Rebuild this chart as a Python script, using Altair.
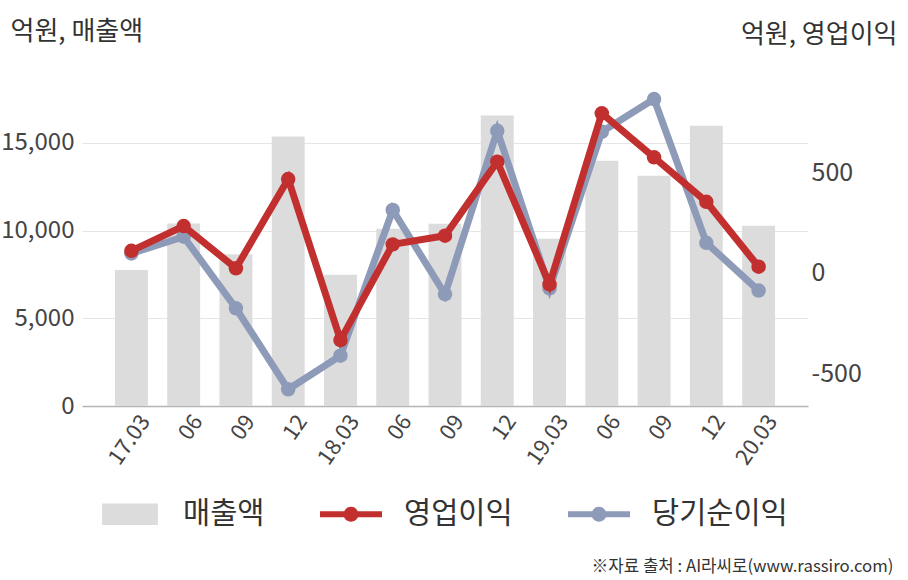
import json
import altair as alt
import pandas as pd

periods = ["17.03", "17.06", "17.09", "17.12", "18.03", "18.06", "18.09",
           "18.12", "19.03", "19.06", "19.09", "19.12", "20.03"]
tick_labels = ["17.03", "06", "09", "12", "18.03", "06", "09",
               "12", "19.03", "06", "09", "12", "20.03"]
revenue = [7750, 10400, 8650, 15350, 7480, 10100, 10380,
           16550, 9530, 13980, 13120, 15970, 10270]
op_profit = [108, 231, 21, 465, -336, 140, 183,
             551, -59, 792, 573, 352, 29]
net_profit = [95, 178, -178, -581, -414, 311, -108,
              705, -79, 700, 863, 148, -90]

series_names = ["매출액", "영업이익", "당기순이익"]
series_colors = ["#dcdcdc", "#c22f2f", "#8e9bb8"]

FONT = "Noto Sans CJK KR"
bar_shape = "M-0.9,-0.35H0.9V0.35H-0.9Z"
line_shape = ("M-1,-0.1H1V0.1H-1Z M0.24,0A0.24,0.24 0 1,1 -0.24,0"
              "A0.24,0.24 0 1,1 0.24,0Z")

bar_df = pd.DataFrame({"period": periods, "value": revenue, "series": series_names[0]})
line_df = pd.concat([
    pd.DataFrame({"period": periods, "value": net_profit, "series": series_names[2]}),
    pd.DataFrame({"period": periods, "value": op_profit, "series": series_names[1]}),
], ignore_index=True)

label_map = json.dumps(dict(zip(periods, tick_labels)), ensure_ascii=False)

legend = alt.Legend(
    title=None, orient="none", legendX=17, legendY=428, direction="horizontal",
    columns=3, labelFontSize=29.5, labelFont=FONT, labelColor="#333333",
    labelOffset=22, columnPadding=55, symbolSize=3844, symbolStrokeWidth=0,
)
color_scale = alt.Scale(domain=series_names, range=series_colors)
shape_scale = alt.Scale(domain=series_names, range=[bar_shape, line_shape, line_shape])

x_axis = alt.Axis(
    labelExpr=f"{label_map}[datum.value]", labelAngle=-55, labelFontSize=22,
    labelFont=FONT, labelColor="#444444", ticks=False, domain=True,
    domainColor="#b5b5b5", domainWidth=1.5, grid=False, labelPadding=11,
    labelOffset=14,
    title="※자료 출처 : AI라씨로(www.rassiro.com)", titleFont=FONT,
    titleFontSize=16.8, titleFontWeight="normal", titleColor="#333333",
    titleAlign="right", titleBaseline="middle", titleAngle=0,
    titleX=811, titleY=160,
)
x_enc = alt.X("period:O", sort=periods,
              scale=alt.Scale(paddingInner=0.37, paddingOuter=0.63), axis=x_axis)

bars = alt.Chart(bar_df).mark_bar().encode(
    x=x_enc,
    y=alt.Y("value:Q", scale=alt.Scale(domain=[0, 20000], nice=False, zero=False),
            axis=alt.Axis(
                values=[0, 5000, 10000, 15000],
                labelExpr="replace(format(datum.value, ','), '\u2212', '-')",
                grid=True, gridColor="#e6e6e6", domain=False, ticks=False,
                labelFontSize=24, labelFont=FONT, labelColor="#444444", labelPadding=8,
                title="억원, 매출액", titleFont=FONT, titleFontSize=26,
                titleFontWeight="normal", titleColor="#333333", titleAngle=0,
                titleAlign="left", titleBaseline="middle", titleX=-72, titleY=-24,
            )),
    color=alt.Color("series:N", scale=color_scale, legend=legend),
)

y_right = alt.Y("value:Q", scale=alt.Scale(domain=[-664, 1082], nice=False, zero=False),
                axis=alt.Axis(
                    orient="right", values=[-500, 0, 500], grid=False, domain=False,
                    ticks=False, labelFontSize=25, labelFont=FONT,
                    labelExpr="(datum.value < 0 ? '-' : '') + abs(datum.value)",
                    labelColor="#444444", labelPadding=3,
                    title="억원, 영업이익", titleFont=FONT, titleFontSize=26,
                    titleFontWeight="normal", titleColor="#333333", titleAngle=0,
                    titleAlign="right", titleBaseline="middle", titleX=89, titleY=-21,
                ))

x_plain = alt.X("period:O", sort=periods)

# invisible layer that only carries the legend symbol shapes
legend_layer = alt.Chart(line_df).mark_point(filled=True, size=0, opacity=0).encode(
    x=x_plain, y=y_right,
    color=alt.Color("series:N", scale=color_scale, legend=legend),
    shape=alt.Shape("series:N", scale=shape_scale, legend=legend),
)

layers = [legend_layer]
for name in [series_names[2], series_names[1]]:
    base = alt.Chart(line_df).transform_filter(alt.datum.series == name)
    ln = base.mark_line(strokeWidth=7).encode(
        x=x_plain, y=y_right,
        color=alt.Color("series:N", scale=color_scale, legend=legend),
    )
    pt = base.mark_circle(size=210, opacity=1).encode(
        x=x_plain, y=y_right,
        color=alt.Color("series:N", scale=color_scale, legend=legend),
    )
    layers += [ln, pt]

lines = alt.layer(*layers)

chart = alt.layer(bars, lines).resolve_scale(y="independent").properties(
    width=726, height=351,
    background="white",
    autosize=alt.AutoSizeParams(type="none"),
    padding={"left": 82, "top": 55, "right": 100, "bottom": 174},
).configure_view(stroke=None, strokeWidth=0).configure_axisY(domain=False)

chart.save("out.html", embed_options={"renderer": "svg", "actions": False})
